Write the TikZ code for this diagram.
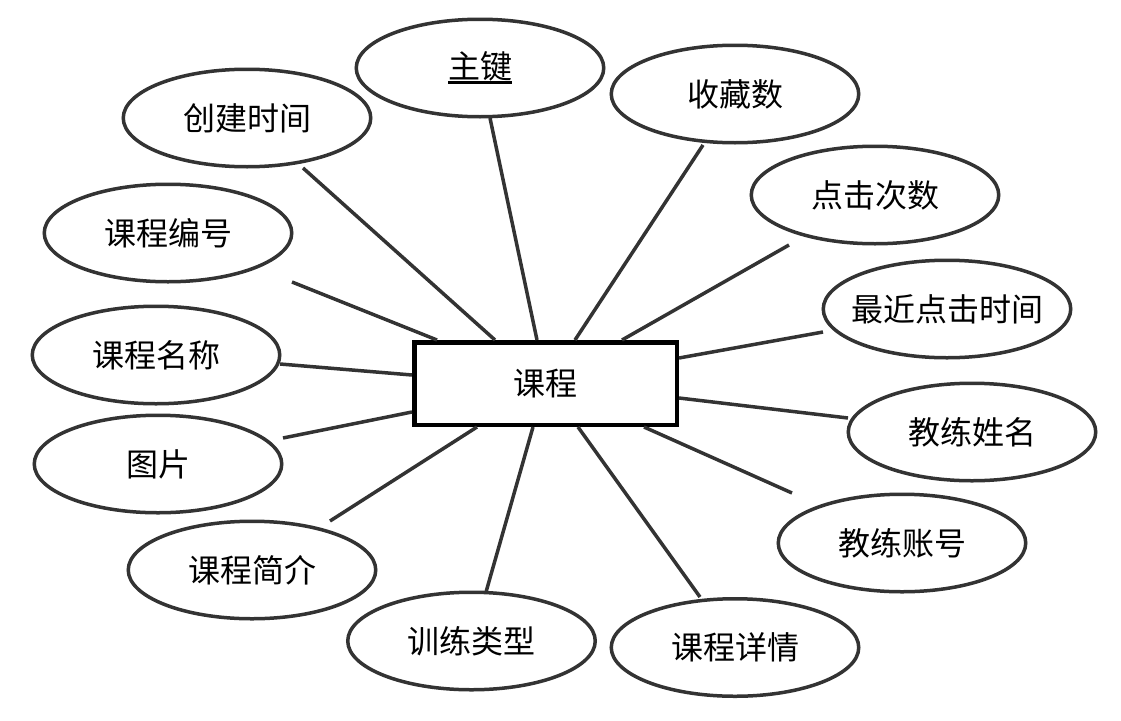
\documentclass[tikz,border=0pt]{standalone}
\usepackage{fontspec}
\setmainfont{Noto Sans CJK SC}
\usetikzlibrary{shapes.geometric,calc}
\definecolor{lc}{HTML}{333333}
\newcommand\attrtxt[1]{\makebox[0pt]{#1}}
\newcommand\keyul[1]{\setbox0=\hbox{#1}\rlap{\rule[-5pt]{\wd0}{2.5pt}}\box0}
\begin{document}
\begin{tikzpicture}[x=1pt,y=-1pt,
  attr/.style={ellipse, draw=lc, line width=3.5pt, fill=white, minimum width=247.5pt, minimum height=97.5pt, inner sep=0pt, font=\fontsize{32}{32}\selectfont},
  ent/.style={rectangle, draw=black, line width=4.5pt, fill=white, minimum width=262.5pt, minimum height=82.5pt, inner sep=0pt, font=\fontsize{32}{32}\selectfont},
  conn/.style={draw=lc, line width=3.5pt}]
\useasboundingbox (0,0) rectangle (1121,720);
% connectors' free ends
\coordinate (f1) at (303,168);
\coordinate (f2) at (490,118);
\coordinate (f3) at (292,282);
\coordinate (f4) at (703,145);
\coordinate (f5) at (789,245);
\coordinate (f6) at (823,332);
\coordinate (f7) at (848,418);
\coordinate (f8) at (792,493);
\coordinate (f9) at (700,597);
\coordinate (f10) at (486,592);
\coordinate (f11) at (330,521);
\coordinate (f12) at (283,438);
\coordinate (f13) at (280,364);
% entity
\node[ent] (c) at (545.5,383.5) {\attrtxt{课程}};
% attributes
\node[attr] (a1) at (480,68) {\attrtxt{\keyul{主键}}};
\node[attr] (a2) at (247,118) {\attrtxt{创建时间}};
\node[attr] (a3) at (735,94) {\attrtxt{收藏数}};
\node[attr] (a4) at (875,195) {\attrtxt{点击次数}};
\node[attr] (a5) at (168,233) {\attrtxt{课程编号}};
\node[attr] (a6) at (947,309) {\attrtxt{最近点击时间}};
\node[attr] (a7) at (156,355) {\attrtxt{课程名称}};
\node[attr] (a8) at (972,432) {\attrtxt{教练姓名}};
\node[attr] (a9) at (158,464) {\attrtxt{图片}};
\node[attr] (a10) at (902,543) {\attrtxt{教练账号}};
\node[attr] (a11) at (252,570) {\attrtxt{课程简介}};
\node[attr] (a12) at (471.5,641) {\attrtxt{训练类型}};
\node[attr] (a13) at (735,647.5) {\attrtxt{课程详情}};
% connectors
\draw[conn] (f1) -- ($(c.north west)+(83,0)$);
\draw[conn] (f2) -- ($(c.north west)+(125,0)$);
\draw[conn] (f3) -- ($(c.north west)+(25,0)$);
\draw[conn] (f4) -- ($(c.north west)+(163,0)$);
\draw[conn] (f5) -- ($(c.north west)+(210,0)$);
\draw[conn] (f6) -- ($(c.north east)+(0,18)$);
\draw[conn] (f7) -- ($(c.north east)+(0,58)$);
\draw[conn] (f8) -- ($(c.south west)+(232,0)$);
\draw[conn] (f9) -- ($(c.south west)+(166,0)$);
\draw[conn] (f10) -- ($(c.south west)+(121,0)$);
\draw[conn] (f11) -- ($(c.south west)+(65,0)$);
\draw[conn] (f12) -- ($(c.north west)+(0,72)$);
\draw[conn] (f13) -- ($(c.north west)+(0,35)$);
\end{tikzpicture}
\end{document}
